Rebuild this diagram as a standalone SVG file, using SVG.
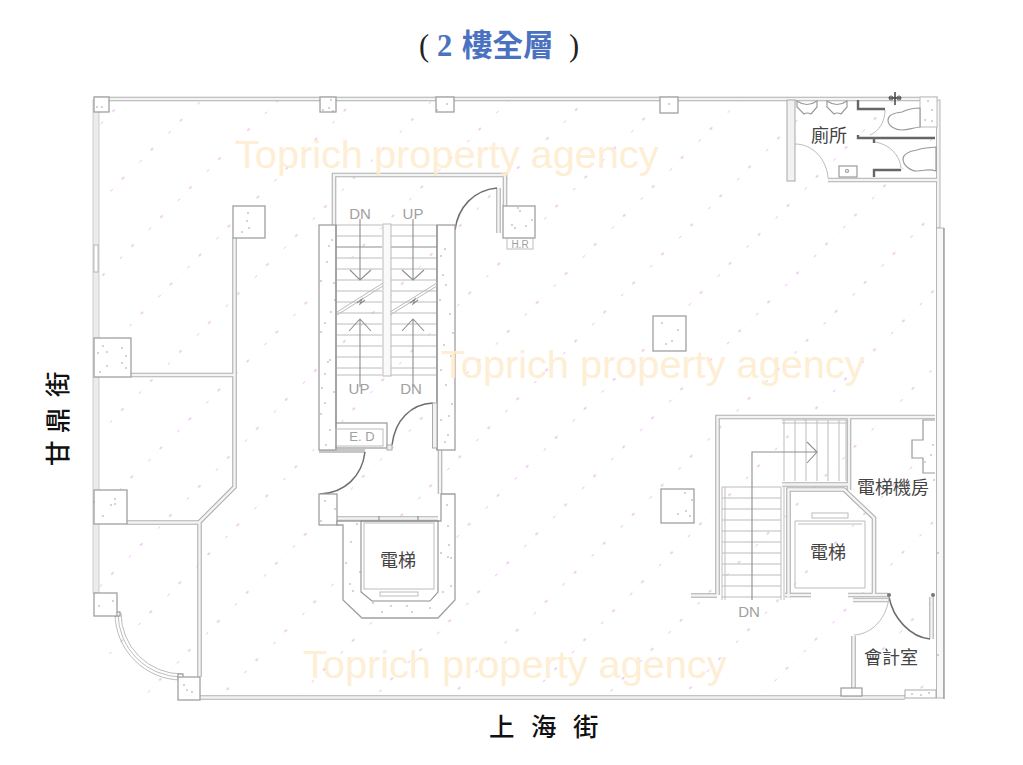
<svg xmlns="http://www.w3.org/2000/svg" xmlns:xlink="http://www.w3.org/1999/xlink" width="1023" height="765" viewBox="0 0 1023 765">
<style>
text{font-family:"Liberation Sans","Noto Sans CJK TC",sans-serif}
.cjk{font-family:"Noto Sans CJK TC",sans-serif;fill:#444;font-size:18px;text-anchor:middle}
.cad{fill:#a0a0a0;font-size:15px;text-anchor:middle}
.street{font-family:"Noto Sans CJK TC",sans-serif;fill:#111;font-size:25.500px;font-weight:500}
.wm{fill:#fdeccd;font-size:39.700px;opacity:.85}
.wo{fill:none;stroke:#b0b0b0;stroke-width:4.600}
.wi{fill:none;stroke:#f4f4f4;stroke-width:2.400}
.col{fill:#fff;stroke:#a0a0a0;stroke-width:1.300}
.thin{fill:none;stroke:#bcbcbc;stroke-width:1}
.line{fill:none;stroke:#8e8e8e;stroke-width:1.100}
.door{fill:none;stroke:#6e6e6e;stroke-width:1.500}
.fix{fill:#fff;stroke:#9a9a9a;stroke-width:1.200}
.dark{fill:none;stroke:#666;stroke-width:2.400}
.dots{fill:none;stroke:#999;stroke-width:1.600;stroke-linecap:round}
</style>
<defs>
<pattern id="hatch" patternUnits="userSpaceOnUse" width="41" height="54.400" patternTransform="translate(556.700 206) rotate(-45)">
<path d="M0 0H41" stroke="#f6f6f6" stroke-width="1" stroke-dasharray="2 5"/>
<path d="M-1.500 0H1.500M39.500 0H41M23 0H26M0 54.400H1.500M39.500 54.400H41" stroke="#efb8f3" stroke-width="1.500"/>
</pattern>
<g id="walls">
<path d="M94 99H938"/>
<path d="M234.500 238V487L199.500 522V677"/>
<path d="M131 375H234"/>
<path d="M127 522.500H199"/>
<path d="M334 225V175H505V206"/>
<path d="M498.500 188V233"/>
<path d="M440 450V494"/>
<path d="M337 518.500H438"/>
<path d="M717.500 595V417H935"/>
<path d="M691 595.500H717"/>
<path d="M849 417V490"/>
<path d="M782 484.500H849"/>
<path d="M788.500 597V489.500H844L874 518V594"/>
<path d="M785 595H811"/>
<path d="M848 595H888"/>
<path d="M853 600H888"/>
<path d="M931.500 597V639"/>
<path d="M853.500 636V688"/>
<path d="M828 180H937"/>
<path d="M200 697.500H905"/>
</g>
</defs>

<rect x="96" y="99" width="844" height="598" fill="url(#hatch)"/>

<g id="perimeter">
<rect x="93" y="100" width="6" height="493" fill="#ececec" stroke="#c4c4c4" stroke-width=".8"/>
<rect x="94" y="245" width="4" height="27" fill="#fff" stroke="#aaa" stroke-width=".8"/>
<rect x="936.500" y="100" width="3.500" height="128" fill="#f2f2f2" stroke="#b0b0b0" stroke-width=".9"/>
<rect x="936.500" y="228" width="7" height="470" fill="#f8f8f8" stroke="#b0b0b0" stroke-width=".9"/>
<path d="M944 228V699" stroke="#a8a8a8" stroke-width="1.600" fill="none"/>
<path d="M284 99H286" stroke="#e88" stroke-width="2"/>
<path d="M287 99H315" stroke="#f6d0d0" stroke-width="1"/>
</g>

<g id="connectors">
<use href="#walls" class="wo"/>
<use href="#walls" class="wi"/>
<path class="thin" d="M118 613A64 64 0 0 0 182 677M121 613A61 61 0 0 0 182 674M115 613A67 67 0 0 0 182 680"/>
<rect class="fix" x="115" y="612" width="5" height="4"/>
<rect class="fix" x="178" y="674" width="5" height="4"/>
<path class="line" d="M319 450H365M319 452H365"/>
<path class="door" d="M455 230C458 207 474 190 497 188"/>
<path class="door" d="M392 445C395 420 411 404 433 403"/>
<path class="door" d="M365 452C362 476 345 493 320 494"/>
<path class="door" d="M889 597C893 618 910 637 930 639"/>
<path class="thin" d="M889 597C887 617 873 634 854 635"/>
<path class="thin" d="M795 144C813 144 827 160 828 178"/>
<path class="thin" d="M885 110C885 122 879 131 870 135"/>
<path class="thin" d="M875 142C889 144 900 155 901 168"/>
</g>

<g id="column-tl"><rect class="col" x="94" y="97" width="15" height="15"/><path class="dots" d="M97 107h0M102 107h0"/></g>
<g id="column-t2"><rect class="col" x="320" y="97" width="16" height="15"/><path class="dots" d="M331 100h0M323 110h0M329 108h0M333 111h0"/></g>
<g id="column-t3"><rect class="col" x="436" y="97" width="18" height="15"/><path class="dots" d="M447 104h0M437 110h0"/></g>
<g id="column-t4"><rect class="col" x="660" y="97" width="18" height="16"/><path class="dots" d="M669 104h0"/></g>
<g id="column-l1"><rect class="col" x="233" y="206" width="32" height="32"/><path class="dots" d="M248 213h0M247 221h0M249 228h0M242 232h0"/></g>
<g id="column-l2"><rect class="col" x="94" y="338" width="37" height="39"/><path class="dots" d="M103 346h0M98 353h0M107 352h0M122 348h0M126 356h0M122 363h0M126 368h0M107 366h0M100 372h0"/></g>
<g id="column-l3"><rect class="col" x="94" y="490" width="33" height="34"/><path class="dots" d="M115 499h0M115 504h0M111 505h0M103 516h0M94 502h0"/></g>
<g id="column-l4"><rect class="col" x="94" y="593" width="23" height="23"/><path class="dots" d="M99 606h0M113 601h0"/></g>
<g id="column-b"><rect class="col" x="178" y="677" width="22" height="23"/><path class="dots" d="M184 685h0M187 690h0M192 692h0"/></g>
<g id="column-hr"><rect class="col" x="503" y="206" width="32" height="32"/><path class="dots" d="M518 208h0M520 211h0M512 225h0M526 226h0M532 220h0M515 228h0"/><rect class="thin" x="507" y="238" width="26" height="11"/><text class="cad" x="520" y="248" style="font-size:10px">H.R</text></g>
<g id="column-c1"><rect class="col" x="653" y="316" width="33" height="35"/><path class="dots" d="M662 323h0M678 330h0M666 344h0M672 341h0"/></g>
<g id="column-c2"><rect class="col" x="661" y="489" width="33" height="34"/><path class="dots" d="M685 493h0M692 500h0M686 511h0M690 516h0M678 514h0"/></g>
<g id="column-br"><rect x="905" y="690" width="31" height="8" fill="#fff" stroke="#aaa"/><path class="dots" d="M912 694h0M921 695h0M929 693h0"/></g>
<g id="column-tr"><rect x="920" y="97" width="17" height="30" fill="#fff" stroke="#bbb"/><path class="dots" d="M928 101h0M932 110h0M925 120h0M932 121h0"/></g>

<g id="stair-core">
<rect class="col" x="319" y="225" width="17" height="225"/>
<rect class="col" x="437" y="225" width="18" height="225"/>
<path class="dots" d="M332 240h0M329 246h0M327 262h0M321 281h0M334 283h0M335 300h0M331 312h0M325 323h0M321 332h0M330 360h0M328 362h0M325 374h0M322 388h0M334 392h0M325 403h0M321 414h0M330 430h0M326 445h0M445 249h0M441 256h0M443 275h0M446 285h0M440 300h0M450 314h0M453 333h0M444 345h0M451 356h0M441 370h0M446 385h0M452 404h0M441 420h0M449 416h0M448 435h0M445 442h0"/>
<path class="thin" d="M336 225H382M336 236H382M336 258H382M336 269H382M336 280H382M336 291H382M336 302H382M336 313H382M336 324H382M336 335H382M336 346H382M336 357H382M336 368H382M336 375H382M391 225H437M391 236H437M391 258H437M391 269H437M391 280H437M391 291H437M391 302H437M391 313H437M391 324H437M391 335H437M391 346H437M391 357H437M391 368H437M391 375H437"/>
<path class="line" d="M336 247H382M391 247H437M336 225V423M437 225V450"/>
<rect x="383" y="224" width="8" height="152" fill="#fafafa" stroke="#bbb"/>
<path class="line" d="M360 219V280M350 270L360 280L371 270M413 219V280M402 270L413 280L424 270M360 387V319M349 331L360 319L371 331M413 387V319M402 331L413 319L424 331"/>
<path d="M337 312L383 283M337 315L383 286M390 312L437 283M390 315L437 286" fill="none" stroke="#bbb" stroke-width="1"/>
<path class="line" d="M357 303L362 299L360 304L365 300M410 303L415 299L413 304L418 300"/>
<text class="cad" x="360" y="219">DN</text>
<text class="cad" x="413" y="219">UP</text>
<text class="cad" x="359" y="394">UP</text>
<text class="cad" x="411" y="394">DN</text>
<rect class="line" x="336" y="423" width="51" height="25" fill="#fff"/>
<rect class="thin" x="336" y="429" width="47" height="17"/>
<text class="cad" x="362" y="441" style="font-size:13px">E. D</text>
<rect x="387" y="445" width="5" height="5" fill="#eee" stroke="#aaa"/>
<rect x="432.500" y="403" width="4.500" height="45" fill="#f2f2f2" stroke="#aaa"/>
</g>

<g id="elevator-left">
<rect class="col" x="319" y="494" width="18" height="31"/>
<path class="dots" d="M325 501h0M335 509h0M321 521h0"/>
<path class="col" d="M337 521V525H343V600L362 618H438L455 600V494H441V521Z"/>
<path class="dots" d="M357 524h0M351 542h0M346 563h0M360 572h0M350 584h0M353 591h0M373 603h0M391 606h0M407 606h0M430 608h0M382 612h0M412 612h0M447 505h0M448 526h0M449 545h0M448 557h0M441 553h0M451 558h0M451 586h0M443 592h0"/>
<path class="line" d="M361 521V592L372 601H430L438 592V521ZM379 516V520M418 516V520"/>
<rect class="thin" x="364" y="523" width="70" height="66"/>
<rect class="thin" x="380" y="592" width="38" height="4"/>
<text class="cjk" x="398" y="567">電梯</text>
</g>

<g id="stair-right">
<path class="thin" d="M784 420V481M795 420V481M806 420V481M817 420V481M828 420V481M839 420V481M846 420V481M722 498H781M722 509H781M722 520H781M722 531H781M722 542H781M722 553H781M722 564H781M722 575H781M722 586H781M722 597H781M722 487H781"/>
<path d="M722 487V600M725 487V600M781 487V600M784 487V600" fill="none" stroke="#c4c4c4" stroke-width="1.100"/>
<path class="thin" d="M782 420H847M782 423H847"/>
<path class="line" d="M752 600V452H817M807 442L817 452L807 463"/>
<text class="cad" x="749" y="617">DN</text>
</g>

<g id="elevator-right">
<path class="thin" d="M795 521H865V588H795ZM798 524H862"/>
<rect class="thin" x="812" y="513" width="36" height="5"/>
<text class="cjk" x="828" y="559">電梯</text>
</g>

<g id="lift-room">
<path class="fix" d="M935 420H923V440H912V458H923V473H935" stroke="#bbb"/>
<path class="dots" d="M933 445h0M931 455h0M925 462h0M934 480h0M938 553h0M938 655h0"/>
<text class="cjk" x="893" y="494">電梯機房</text>
</g>

<g id="accounts">
<circle cx="889" cy="595" r="2" fill="#777"/>
<circle cx="933" cy="595" r="2" fill="#777"/>
<rect class="fix" x="841" y="688" width="21" height="8"/>
<text class="cjk" x="891" y="664">會計室</text>
</g>

<g id="toilet">
<rect x="787" y="100" width="8" height="81" fill="#f2f2f2" stroke="#a8a8a8"/>
<path class="fix" d="M797 101V107L804 114Q807 112 811 114L817 107V101Q807 108 797 101Z"/>
<path class="fix" d="M827 101V107L834 114Q837 112 841 114L847 107V101Q837 108 827 101Z"/>
<path class="dark" d="M858 100V109H885"/>
<path class="dark" d="M858 135V138H935"/>
<path class="dark" d="M874 177V170H901M874 139V143"/>
<path class="fix" d="M920 108C912 108 908 109 902 112C893 113 888 116 888 120C888 126 895 130 902 130C908 130 912 128 920 127Z"/>
<path class="fix" d="M936 147C926 148 922 148 917 150C908 151 903 155 903 159C903 165 910 171 917 171C925 171 928 168 936 171Z"/>
<rect class="fix" x="839" y="166" width="18" height="11"/>
<circle class="fix" cx="847" cy="171" r="1.500"/>
<path d="M895 92V105M889 98H901" stroke="#444" stroke-width="1.500" fill="none"/>
<circle cx="891" cy="98" r="2" fill="none" stroke="#555"/>
<circle cx="899" cy="98" r="2" fill="none" stroke="#555"/>
<text class="cjk" x="829" y="142">廁所</text>
</g>

<g id="labels">
<text y="56" style="font-family:'Liberation Serif','Noto Sans CJK TC',serif;font-size:30.500px;font-weight:700;fill:#4a72c0"><tspan x="419" style="fill:#222;font-weight:400">(</tspan><tspan x="437">2</tspan><tspan x="462" style="font-family:'Noto Sans CJK TC',sans-serif">樓全層</tspan><tspan x="569" style="fill:#222;font-weight:400">)</tspan></text>
<text class="street" x="489 510 531 552 573" y="736">上 海 街</text>
<text class="street" transform="translate(67 466) rotate(-90)" x="0 25 33 60 69" y="0">甘 鼎 街</text>
</g>

<g id="watermarks">
<text class="wm" x="235" y="168">Toprich property agency</text>
<text class="wm" x="441" y="378">Toprich property agency</text>
<text class="wm" x="303" y="678">Toprich property agency</text>
</g>
</svg>
